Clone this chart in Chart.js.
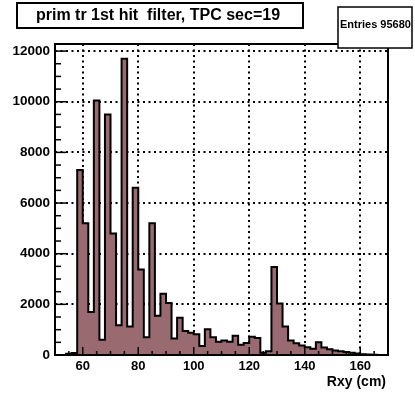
<!DOCTYPE html>
<html>
<head>
<meta charset="utf-8">
<script src="https://cdn.jsdelivr.net/npm/chart.js@4.4.0/dist/chart.umd.min.js"></script>
<style>
  html, body { margin: 0; padding: 0; background: #fff; }
  #wrap { width: 415px; height: 395px; }
</style>
</head>
<body>
<div id="wrap"><canvas id="hist" width="415" height="395"></canvas></div>
<script>
// histogram bins (lower edges, 2 cm wide) and their contents
const binLow = [
  50, 52, 54, 56, 58, 60, 62, 64, 66, 68,
  70, 72, 74, 76, 78, 80, 82, 84, 86, 88,
  90, 92, 94, 96, 98, 100, 102, 104, 106, 108,
  110, 112, 114, 116, 118, 120, 122, 124, 126, 128,
  130, 132, 134, 136, 138, 140, 142, 144, 146, 148,
  150, 152, 154, 156, 158, 160, 162, 164, 166, 168
];
const counts = [
  0, 0, 50, 80, 7300, 5200, 1700, 10050, 600, 9500,
  4800, 1170, 11700, 1130, 6600, 3380, 700, 5200, 1550, 2420,
  2050, 650, 1470, 950, 880, 820, 360, 1020, 700, 520,
  570, 520, 760, 400, 470, 720, 670, 90, 150, 3470,
  2030, 1130, 570, 460, 380, 310, 250, 500, 300, 230,
  180, 150, 115, 85, 60, 25, 15, 5, 0, 0
];
const xMin = 50;
const xMax = 170;
const yMax = 12280;
const xTicks = [60, 80, 100, 120, 140, 160];
const yTicks = [0, 2000, 4000, 6000, 8000, 10000, 12000];

const titleText = "prim tr 1st hit  filter, TPC sec=19";
const statsText = "Entries 95680";
const xTitle = "Rxy (cm)";

const FONT = "'Liberation Sans', Arial, Helvetica, sans-serif";

// step outline: each point is a bin's lower edge, plus the last upper edge
function buildPoints() {
  const pts = binLow.map((x, i) => ({ x: x, y: counts[i] }));
  pts.push({ x: xMax, y: counts[counts.length - 1] });
  return pts;
}

function line(ctx, x1, y1, x2, y2) {
  ctx.beginPath();
  ctx.moveTo(x1, y1);
  ctx.lineTo(x2, y2);
  ctx.stroke();
}

// ROOT style frame, inner ticks, title and stats boxes
const rootDecor = {
  id: "rootDecor",
  afterDatasetsDraw(chart) {
    const { ctx, chartArea: a, scales } = chart;
    const xs = scales.x;
    const ys = scales.y;
    ctx.save();
    ctx.strokeStyle = "#000";
    ctx.lineWidth = 1.5;
    for (let v = 0; v <= yMax; v += 500) {
      const py = ys.getPixelForValue(v);
      const len = v % 2000 === 0 ? 11 : 6;
      line(ctx, a.left, py, a.left + len, py);
    }
    for (let v = xMin; v <= xMax; v += 5) {
      const px = xs.getPixelForValue(v);
      const len = v % 20 === 0 ? 8 : 4;
      line(ctx, px, a.bottom, px, a.bottom - len);
    }
    ctx.lineWidth = 2;
    ctx.strokeRect(a.left, a.top, a.right - a.left, a.bottom - a.top);
    ctx.restore();
  },
  afterDraw(chart) {
    const { ctx, chartArea: a } = chart;
    ctx.save();
    // title box
    ctx.fillStyle = "#fff";
    ctx.fillRect(17, 3, 286, 25);
    ctx.strokeStyle = "#000";
    ctx.lineWidth = 2;
    ctx.strokeRect(17, 3, 286, 25);
    ctx.fillStyle = "#000";
    ctx.font = "bold 16px " + FONT;
    ctx.textAlign = "center";
    ctx.textBaseline = "middle";
    ctx.fillText(titleText, 158, 16);
    // stats box
    ctx.fillStyle = "#fff";
    ctx.fillRect(338, 7, 74, 41);
    ctx.lineWidth = 1.5;
    ctx.strokeRect(338, 7, 74, 41);
    ctx.fillStyle = "#000";
    ctx.font = "bold 11px " + FONT;
    ctx.textAlign = "left";
    ctx.fillText(statsText, 340, 25);
    // x axis title
    ctx.font = "bold 14px " + FONT;
    ctx.textAlign = "right";
    ctx.fillText(xTitle, a.right - 2, 382);
    ctx.restore();
  }
};

new Chart(document.getElementById("hist"), {
  type: "line",
  data: {
    datasets: [{
      data: buildPoints(),
      stepped: true,
      fill: "origin",
      backgroundColor: "#996a70",
      borderColor: "#000",
      borderWidth: 2,
      pointRadius: 0,
      tension: 0
    }]
  },
  options: {
    responsive: false,
    animation: false,
    layout: { padding: { top: 44, right: 27, left: 0, bottom: 0 } },
    plugins: {
      legend: { display: false },
      tooltip: { enabled: false }
    },
    scales: {
      x: {
        type: "linear",
        min: xMin,
        max: xMax,
        afterBuildTicks: (s) => { s.ticks = xTicks.map((v) => ({ value: v })); },
        afterFit: (s) => { s.height = 40; },
        grid: { color: "#000", lineWidth: 2, drawTicks: false },
        border: { display: false, dash: [2, 3.5] },
        ticks: {
          autoSkip: false,
          maxRotation: 0,
          padding: 4,
          color: "#000",
          font: { family: FONT, size: 13, weight: "bold" },
          callback: (v) => String(v)
        }
      },
      y: {
        type: "linear",
        min: 0,
        max: yMax,
        afterBuildTicks: (s) => { s.ticks = yTicks.map((v) => ({ value: v })); },
        afterFit: (s) => { s.width = 55; },
        grid: { color: "#000", lineWidth: 2, drawTicks: false },
        border: { display: false, dash: [2, 3.5] },
        ticks: {
          padding: 5,
          color: "#000",
          font: { family: FONT, size: 13.5, weight: "bold" },
          callback: (v) => String(v)
        }
      }
    }
  },
  plugins: [rootDecor]
});
</script>
</body>
</html>
